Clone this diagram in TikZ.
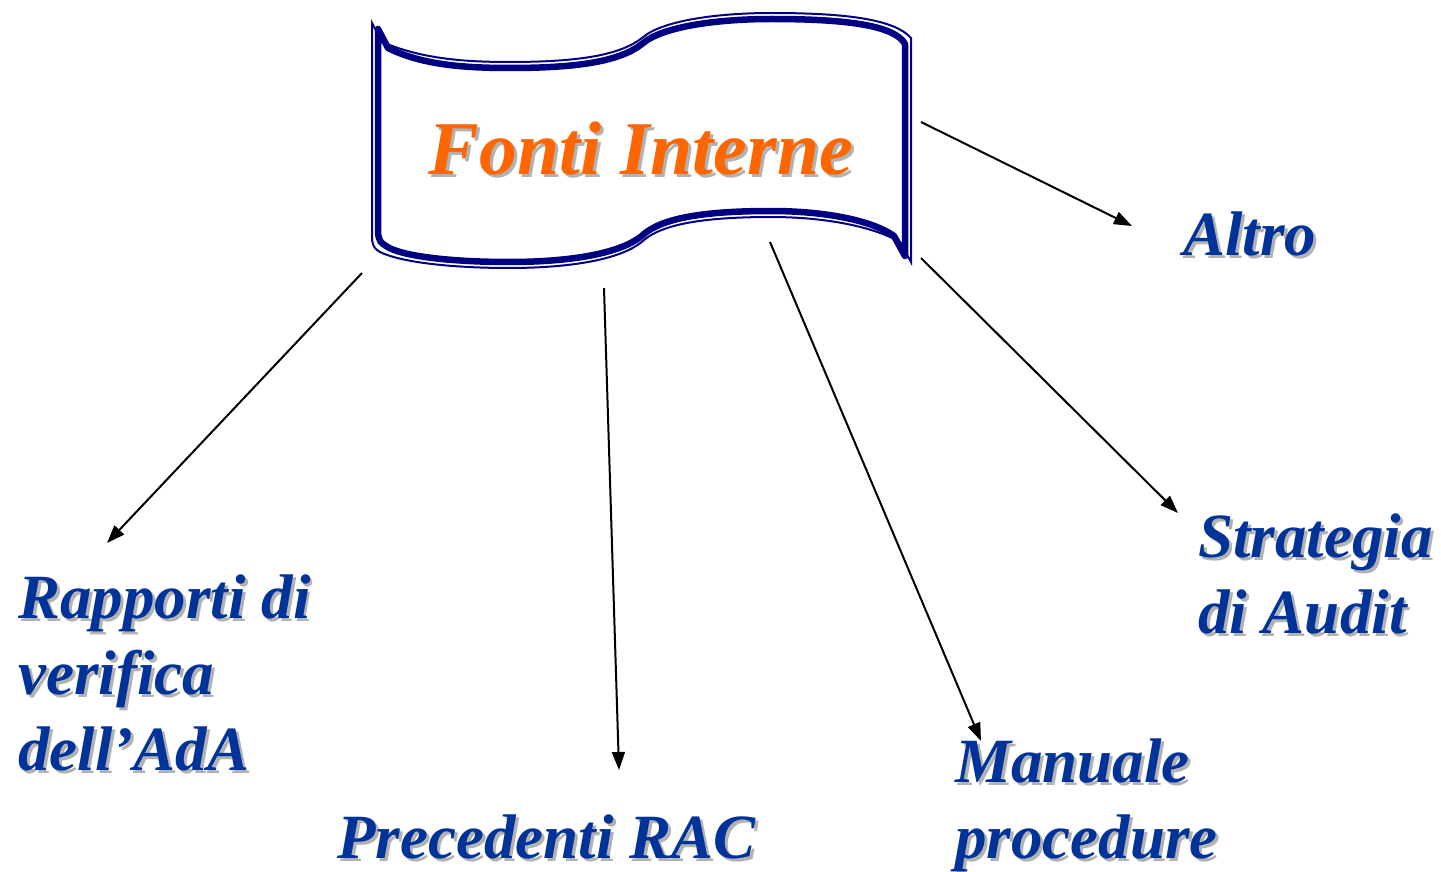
\documentclass[tikz,border=0pt]{standalone}
\usepackage{fontspec}
\setmainfont{Liberation Serif}
\usepackage{xcolor}
\usetikzlibrary{arrows.meta}
\definecolor{bannerblue}{RGB}{0,0,128}
\definecolor{labelblue}{RGB}{0,51,153}
\definecolor{fontiorange}{RGB}{255,102,0}
\definecolor{shadowgray}{RGB}{178,178,178}
% text with a grey drop shadow
\newcommand{\shtext}[1]{\leavevmode\rlap{\kern3pt\raisebox{-3pt}{\color{shadowgray}#1}}#1}
% outline of the banner, #1 = inset
\newcommand{\bannerpath}[1]{({372+#1},{23+#1}) -- ({382+#1},{42+#1})
  .. controls (420,{58+#1}) and (460,{62+#1}) .. (509,{62+#1})
  .. controls (580,{62+#1}) and (620,{55+#1}) .. (642,{38+#1})
  .. controls (662,{20+#1}) and (720,{13+#1}) .. (771,{13+#1})
  .. controls (850,{13+#1}) and (895,{20+#1}) .. ({911-#1},{38+#1})
  -- ({911-#1},{262-#1}) -- ({900-#1},{242-#1})
  .. controls (870,{225-#1}) and (820,{217-#1}) .. (771,{217-#1})
  .. controls (700,{217-#1}) and (662,{225-#1}) .. (644,{240-#1})
  .. controls (620,{262-#1}) and (560,{268-#1}) .. (509,{268-#1})
  .. controls (450,{268-#1}) and (400,{262-#1}) .. ({380+#1},{252-#1})
  .. controls ({374+#1},{248-#1}) .. ({372+#1},{240-#1}) -- cycle}

\begin{document}
\begin{tikzpicture}[x=1pt,y=-1pt]
    \tikzstyle{lbl}=[anchor=base west,inner sep=0,align=left,text=labelblue,
      font=\fontsize{63}{76}\selectfont\bfseries\itshape]
    \tikzstyle{arr}=[line width=2pt,-{Triangle[length=18pt,width=13pt]}]
    \useasboundingbox (0,0) rectangle (1441,872);
    % banner
    \fill[white] \bannerpath{0};
    \draw[bannerblue,line width=2pt] \bannerpath{0};
    \draw[bannerblue,line width=6.5pt,line join=round] \bannerpath{6};
    \node[anchor=base,inner sep=0,text=fontiorange,
      font=\fontsize{76}{80}\selectfont\bfseries\itshape] (fonti) at (641,175)
      {\shtext{Fonti Interne}};
    % labels (base = last line)
    \node[lbl] (altro) at (1183,255) {\shtext{Altro}};
    \node[lbl] (rapporti) at (18,770)
      {\shtext{Rapporti di}\\\shtext{verifica}\\\shtext{dell'AdA}};
    \node[lbl] (precedenti) at (337,858) {\shtext{Precedenti RAC}};
    \node[lbl] (manuale) at (955,858) {\shtext{Manuale}\\\shtext{procedure}};
    \node[lbl] (strategia) at (1198,633) {\shtext{Strategia}\\\shtext{di Audit}};
    % arrows
    \coordinate (rapporti-s) at (362,273);
    \coordinate (rapporti-e) at (107,543);
    \coordinate (precedenti-s) at (604,288);
    \coordinate (precedenti-e) at (619,770);
    \coordinate (manuale-s) at (770,242);
    \coordinate (manuale-e) at (981,741);
    \coordinate (strategia-s) at (921,258);
    \coordinate (strategia-e) at (1178,513);
    \coordinate (altro-s) at (921,122);
    \coordinate (altro-e) at (1132,226);
    \draw[arr] (rapporti-s) -- (rapporti-e);
    \draw[arr] (precedenti-s) -- (precedenti-e);
    \draw[arr] (manuale-s) -- (manuale-e);
    \draw[arr] (strategia-s) -- (strategia-e);
    \draw[arr] (altro-s) -- (altro-e);
\end{tikzpicture}
\end{document}
